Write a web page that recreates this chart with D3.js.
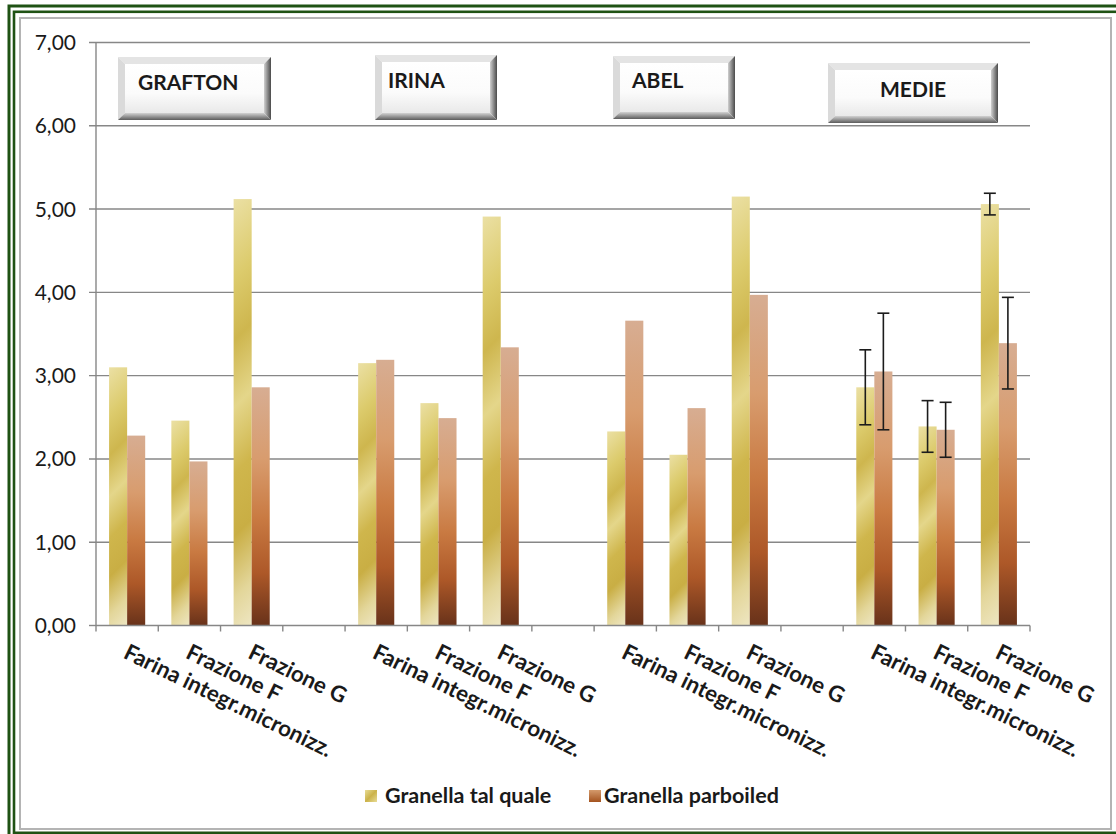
<!DOCTYPE html>
<html>
<head>
<meta charset="utf-8">
<script src="https://cdn.jsdelivr.net/npm/d3@7"></script>
<style>
  html, body { margin: 0; padding: 0; background: #fff; }
  svg { display: block; }
</style>
</head>
<body>
<svg id="chart" width="1116" height="834"></svg>
<script>
// ---- data ----
const groups = ["GRAFTON", "IRINA", "ABEL", "MEDIE"];
const fractions = ["Farina integr.micronizz.", "Frazione F", "Frazione G"];
const seriesNames = ["Granella tal quale", "Granella parboiled"];
const talQuale  = [3.10, 2.46, 5.12,  3.15, 2.67, 4.91,  2.33, 2.05, 5.15,  2.86, 2.39, 5.06];
const parboiled = [2.28, 1.97, 2.86,  3.19, 2.49, 3.34,  3.66, 2.61, 3.97,  3.05, 2.35, 3.39];
// standard deviations shown on the MEDIE group only
const medieErrTalQuale  = [0.45, 0.31, 0.13];
const medieErrParboiled = [0.70, 0.33, 0.55];
const yTicks = [0, 1, 2, 3, 4, 5, 6, 7];

// ---- layout ----
const W = 1116, H = 834;
const plot = { left: 96, right: 1030, top: 42.5, bottom: 625.5 };
const boxes = [
  { x: 118, y: 57, w: 153, h: 63, tx: 138, ty: 90 },
  { x: 375, y: 55, w: 122, h: 65, tx: 388, ty: 88 },
  { x: 613, y: 56, w: 122, h: 63, tx: 632, ty: 88 },
  { x: 828, y: 63, w: 170, h: 60, tx: 880, ty: 97 }
];
const labelFont = "Lato, 'Open Sans', sans-serif";

const svg = d3.select("#chart");
const defs = svg.append("defs");

// category slots: three fractions per group, an empty slot between groups
const slots = [];
groups.forEach((g, gi) => {
  fractions.forEach((f, fi) => slots.push({ key: g + "|" + f, group: g, fraction: f, idx: gi * 3 + fi }));
  if (gi < groups.length - 1) slots.push({ key: "gap" + gi, group: null });
});
const slotKeys = slots.map(s => s.key);

const x = d3.scaleBand().domain(slotKeys).range([plot.left, plot.right]).paddingInner(0.42).paddingOuter(0.21);
const xSlot = d3.scaleBand().domain(slotKeys).range([plot.left, plot.right]).padding(0);
const xSeries = d3.scaleBand().domain(seriesNames).range([0, x.bandwidth()]).padding(0);
const y = d3.scaleLinear().domain([0, 7]).range([plot.bottom, plot.top]);

// ---- frame ----
svg.append("rect").attr("x", 0).attr("y", 0).attr("width", W).attr("height", H).attr("fill", "#fff");
svg.append("rect").attr("x", 9).attr("y", 6).attr("width", W + 20).attr("height", H + 20)
  .attr("fill", "none").attr("stroke", "#1f5214").attr("stroke-width", 3);
svg.append("rect").attr("x", 14).attr("y", 11.8).attr("width", W + 20).attr("height", 821)
  .attr("fill", "none").attr("stroke", "#1f5214").attr("stroke-width", 2.6);
svg.append("rect").attr("x", 20).attr("y", 18).attr("width", 1091).attr("height", 811)
  .attr("fill", "#fff").attr("stroke", "#b4b4b4").attr("stroke-width", 2);

// ---- gradients ----
const goldStops = [
  [0, "#ebe0a4"], [0.18, "#dccb6c"], [0.32, "#ceb64e"], [0.47, "#e4d68a"],
  [0.62, "#cfb64c"], [0.76, "#c9ae44"], [0.9, "#e3d69a"], [1, "#eee6c2"]
];
const copperStops = [
  [0, "#d7ad92"], [0.3, "#d89c6e"], [0.55, "#c97a42"], [0.78, "#ad5828"], [1, "#68321a"]
];
function addStops(grad, stops) {
  grad.selectAll("stop").data(stops).join("stop")
    .attr("offset", d => d[0]).attr("stop-color", d => d[1]);
}
addStops(defs.append("linearGradient").attr("id", "copper")
  .attr("x1", 0).attr("y1", 0).attr("x2", 0).attr("y2", 1), copperStops);
addStops(defs.append("linearGradient").attr("id", "goldKey")
  .attr("x1", 0).attr("y1", 0).attr("x2", 1).attr("y2", 1),
  [[0, "#e8dc96"], [0.5, "#cbb24a"], [1, "#e8dc96"]]);
addStops(defs.append("linearGradient").attr("id", "copperKey")
  .attr("x1", 0).attr("y1", 0).attr("x2", 0).attr("y2", 1),
  [[0, "#d49a6c"], [1, "#a4531f"]]);

// ---- gridlines and axes ----
const axisColor = "#878787";
svg.append("g").selectAll("line").data(yTicks.filter(t => t > 0)).join("line")
  .attr("x1", plot.left - 7).attr("x2", plot.right)
  .attr("y1", d => y(d)).attr("y2", d => y(d))
  .attr("stroke", axisColor).attr("stroke-width", 1.4);

svg.append("line").attr("x1", plot.left).attr("x2", plot.left)
  .attr("y1", plot.top).attr("y2", plot.bottom)
  .attr("stroke", axisColor).attr("stroke-width", 1.4);
svg.append("line").attr("x1", plot.left - 7).attr("x2", plot.left)
  .attr("y1", y(0)).attr("y2", y(0)).attr("stroke", axisColor).attr("stroke-width", 1.4);

svg.append("g").selectAll("text").data(yTicks).join("text")
  .attr("x", 76).attr("y", d => y(d)).attr("dy", "0.36em")
  .attr("text-anchor", "end")
  .attr("font-family", labelFont).attr("font-size", 21).attr("fill", "#1a1a1a")
  .text(d => d3.format(".2f")(d).replace(".", ","));

// ---- label buttons ----
function button(g, b) {
  const bv = 7, { x: bx, y: by, w, h } = b;
  const id = "btn" + bx;
  addStops(defs.append("linearGradient").attr("id", id + "f").attr("x1", 0).attr("y1", 0).attr("x2", 0).attr("y2", 1),
    [[0, "#ffffff"], [0.6, "#fbfbfb"], [1, "#e9e9e9"]]);
  addStops(defs.append("linearGradient").attr("id", id + "r").attr("x1", 0).attr("y1", 0).attr("x2", 1).attr("y2", 0),
    [[0, "#d0d0d0"], [1, "#4a4a4a"]]);
  addStops(defs.append("linearGradient").attr("id", id + "b").attr("x1", 0).attr("y1", 0).attr("x2", 0).attr("y2", 1),
    [[0, "#d2d2d2"], [1, "#5c5c5c"]]);
  const poly = (pts, fill) => g.append("polygon").attr("points", pts.map(p => p.join(",")).join(" ")).attr("fill", fill);
  poly([[bx, by], [bx + w, by], [bx + w - bv, by + bv], [bx + bv, by + bv]], "#e4e4e4");
  poly([[bx, by], [bx + bv, by + bv], [bx + bv, by + h - bv], [bx, by + h]], "#dadada");
  poly([[bx + w, by], [bx + w, by + h], [bx + w - bv, by + h - bv], [bx + w - bv, by + bv]], `url(#${id}r)`);
  poly([[bx, by + h], [bx + w, by + h], [bx + w - bv, by + h - bv], [bx + bv, by + h - bv]], `url(#${id}b)`);
  g.append("rect").attr("x", bx + bv).attr("y", by + bv).attr("width", w - 2 * bv).attr("height", h - 2 * bv)
    .attr("fill", `url(#${id}f)`);
}
const btnG = svg.append("g");
groups.forEach((name, i) => {
  const b = boxes[i];
  button(btnG, b);
  btnG.append("text").attr("x", b.tx).attr("y", b.ty)
    .attr("font-family", labelFont).attr("font-weight", 700).attr("font-size", 21).attr("fill", "#1a1a1a")
    .text(name);
});

// ---- bars ----
const rows = [];
slots.filter(s => s.group).forEach(s => {
  rows.push({ slot: s.key, series: seriesNames[0], value: talQuale[s.idx], idx: s.idx });
  rows.push({ slot: s.key, series: seriesNames[1], value: parboiled[s.idx], idx: s.idx });
});
const barG = svg.append("g");
rows.forEach((d, i) => {
  const bx = x(d.slot) + xSeries(d.series), bw = xSeries.bandwidth();
  const top = y(d.value), bottom = y(0);
  let fill = "url(#copper)";
  if (d.series === seriesNames[0]) {
    const id = "gold" + i, span = (bw + (bottom - top)) / 2;
    addStops(defs.append("linearGradient").attr("id", id).attr("gradientUnits", "userSpaceOnUse")
      .attr("x1", bx).attr("y1", top).attr("x2", bx + span).attr("y2", top + span), goldStops);
    fill = `url(#${id})`;
  }
  barG.append("rect").attr("x", bx).attr("y", top).attr("width", bw).attr("height", bottom - top).attr("fill", fill);
});

// x axis with ticks at slot boundaries
svg.append("line").attr("x1", plot.left).attr("x2", plot.right)
  .attr("y1", y(0)).attr("y2", y(0)).attr("stroke", axisColor).attr("stroke-width", 1.4);
const bounds = slotKeys.map(k => xSlot(k)).concat([plot.right]);
svg.append("g").selectAll("line").data(bounds).join("line")
  .attr("x1", d => d).attr("x2", d => d).attr("y1", y(0)).attr("y2", y(0) + 6)
  .attr("stroke", axisColor).attr("stroke-width", 1.4);

// ---- error bars on MEDIE ----
const errRows = [];
fractions.forEach((f, fi) => {
  const key = "MEDIE|" + f, idx = 9 + fi;
  errRows.push({ slot: key, series: seriesNames[0], value: talQuale[idx], err: medieErrTalQuale[fi] });
  errRows.push({ slot: key, series: seriesNames[1], value: parboiled[idx], err: medieErrParboiled[fi] });
});
const errG = svg.append("g").attr("stroke", "#1c1c1c").attr("stroke-width", 1.6);
errRows.forEach(d => {
  const cx = x(d.slot) + xSeries(d.series) + xSeries.bandwidth() / 2;
  const y1 = y(d.value + d.err), y2 = y(d.value - d.err);
  errG.append("line").attr("x1", cx).attr("x2", cx).attr("y1", y1).attr("y2", y2);
  errG.append("line").attr("x1", cx - 6).attr("x2", cx + 6).attr("y1", y1).attr("y2", y1);
  errG.append("line").attr("x1", cx - 6).attr("x2", cx + 6).attr("y1", y2).attr("y2", y2);
});

// ---- category labels (rotated) ----
svg.append("g").selectAll("text").data(slots.filter(s => s.group)).join("text")
  .attr("transform", d => `translate(${xSlot(d.key) + xSlot.bandwidth() / 2 - 3},${y(0) + 28}) rotate(26)`)
  .attr("font-family", labelFont).attr("font-weight", 700).attr("font-size", 22.3).attr("fill", "#1a1a1a")
  .attr("dy", "0.2em")
  .text(d => d.fraction);

// ---- legend ----
const legend = [
  { name: seriesNames[0], mx: 365, tx: 385, fill: "url(#goldKey)" },
  { name: seriesNames[1], mx: 589, tx: 604, fill: "url(#copperKey)" }
];
const legG = svg.append("g");
legend.forEach(l => {
  legG.append("rect").attr("x", l.mx).attr("y", 790).attr("width", 12).attr("height", 12).attr("fill", l.fill);
  legG.append("text").attr("x", l.tx).attr("y", 803)
    .attr("font-family", labelFont).attr("font-weight", 700).attr("font-size", 21.5).attr("fill", "#1a1a1a")
    .text(l.name);
});
</script>
</body>
</html>
